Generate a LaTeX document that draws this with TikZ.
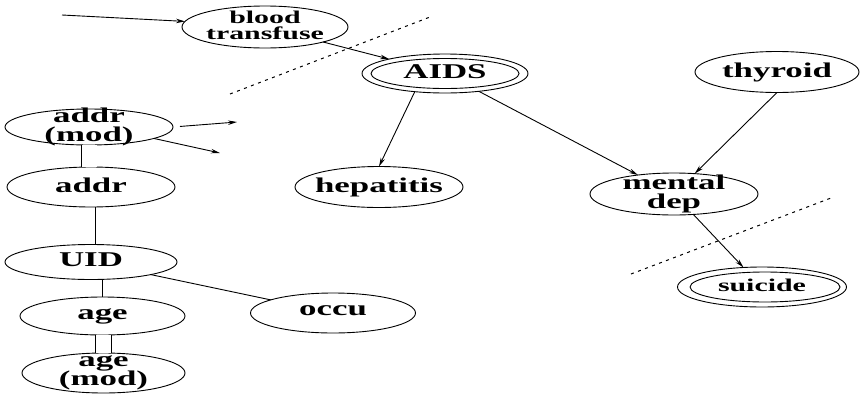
\documentclass[tikz,border=0pt]{standalone}
\usepackage{fontspec}
\usepackage{graphicx}
\setmainfont{Liberation Serif}
\newcommand\lbl[1]{\scalebox{1.66}[1]{\begin{tabular}{@{}c@{}}#1\end{tabular}}}
\usetikzlibrary{shapes.geometric,arrows.meta}
\begin{document}
\begin{tikzpicture}[x=1pt,y=-1pt,
  ell/.style={ellipse,draw,line width=0.9pt,inner sep=0pt,outer sep=0pt},
  sz/.style 2 args={minimum width=#1,minimum height=#2},
  txt/.style={font=\bfseries\fontsize{21}{14.5}\selectfont,inner sep=0pt},
  stxt/.style={font=\bfseries\fontsize{18}{13}\selectfont,inner sep=0pt},
  arr/.style={-{Stealth[length=9pt,width=4.5pt]},line width=0.9pt},
  lnk/.style={line width=0.9pt},
  dbl/.style={double,double distance=15pt,line width=0.9pt},
  sep/.style={line width=1pt,dash pattern=on 3pt off 4.5pt}]
\useasboundingbox (0,0) rectangle (863,397);
% nodes
\node[ell,sz={166}{42},label={[stxt]center:\lbl{blood\\transfuse}}] (bt) at (265,27) {};
\node[ell,sz={166}{39},label={[txt]center:\lbl{AIDS}}] (aids) at (445,73.5) {};
\draw[line width=0.9pt] (aids.center) ellipse [x radius=74, y radius=15];
\node[ell,sz={164}{41},label={[txt]center:\lbl{thyroid}}] (thy) at (777,72) {};
\node[ell,sz={168}{41},label={[txt]center:\lbl{hepatitis}}] (hep) at (379,187) {};
\node[ell,sz={168}{42},label={[txt]center:\lbl{mental\\dep}}] (md) at (674,194) {};
\node[ell,sz={169}{40},label={[stxt]center:\lbl{suicide}}] (su) at (762,287) {};
\draw[line width=0.9pt] (765,287) ellipse [x radius=75, y radius=15];
\node[ell,sz={168}{36},label={[txt]center:\lbl{addr\\(mod)}}] (am) at (89,127) {};
\node[ell,sz={168}{40},label={[txt]center:\lbl{addr}}] (ad) at (91,187) {};
\node[ell,sz={172}{35},label={[txt]center:\lbl{UID}}] (uid) at (91,262) {};
\node[ell,sz={165}{38},label={[txt]center:\lbl{age}}] (age) at (102.5,316) {};
\node[ell,sz={163}{40},label={[txt]center:\lbl{age\\(mod)}}] (agm) at (103.5,373) {};
\node[ell,sz={165}{40},label={[txt]center:\lbl{occu}}] (occu) at (333,313) {};
% free ends
\coordinate (in1) at (62,15);
\coordinate (amo1) at (237,122);
\coordinate (amo2) at (220,153);
\coordinate (s1a) at (230,94);
\coordinate (s1b) at (430,17);
\coordinate (s2a) at (631,274);
\coordinate (s2b) at (831,198);
% connectors
\draw[arr] (in1) -- (bt.176);
\draw[arr] (bt) -- (aids);
\draw[arr] (aids.211) -- (hep.north);
\draw[arr] (aids) -- (md);
\draw[arr] (thy.south) -- (md);
\draw[arr] (md) -- (su);
\draw[arr,shorten <=7pt] (am.east) -- (amo1);
\draw[arr] (am.-10) -- (amo2);
\draw[dbl] (am.south) -- (am.south |- ad.north);
\draw[lnk] ([xshift=4pt]ad.south) -- ([xshift=4pt]uid.north);
\draw[lnk] (age.north |- uid.south) -- (age.north);
\draw[dbl] (agm.north |- age.south) -- (agm.north);
\draw[lnk] (uid) -- (occu);
\draw[sep] (s1a) -- (s1b);
\draw[sep] (s2a) -- (s2b);
\end{tikzpicture}
\end{document}
